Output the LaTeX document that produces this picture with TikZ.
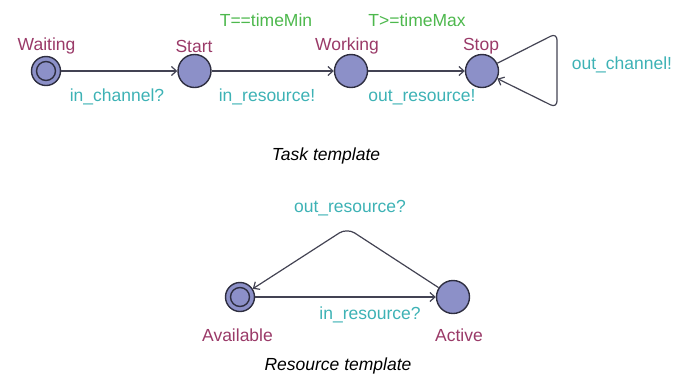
\documentclass[tikz,border=0pt]{standalone}
\usepackage{fontspec}
\setmainfont{Liberation Sans}
\usetikzlibrary{arrows.meta}
\definecolor{locfill}{HTML}{8C90C8}
\definecolor{bord}{HTML}{2E2E40}
\definecolor{lname}{HTML}{9A3A68}
\definecolor{guard}{HTML}{4DB84D}
\definecolor{sync}{HTML}{3DB2B5}
\begin{document}
\begin{tikzpicture}[x=1pt,y=-1pt,font=\fontsize{17.5}{20}\selectfont,
  loc/.style={circle,draw=bord,line width=1.4pt,fill=locfill,minimum size=33pt,inner sep=0pt},
  initloc/.style={loc,minimum size=29pt},
  edge/.style={draw=bord!90,line width=1.2pt,-{Straight Barb[length=5pt,width=9pt]}},
  lnm/.style={text=lname,inner sep=0pt},
  grd/.style={text=guard,inner sep=0pt},
  syn/.style={text=sync,inner sep=0pt},
  captxt/.style={inner sep=0pt,font=\fontsize{17.5}{20}\selectfont\itshape}]
\useasboundingbox (0,0) rectangle (691,376);
% Task template
\node[initloc] (wait) at (46,71) {};
\draw[bord,line width=1.4pt] (wait.center) circle (9.5);
\node[loc] (start) at (194.5,71) {};
\node[loc] (work) at (351,71) {};
\node[loc] (stop) at (482,71) {};
\node[lnm] (lw) at (46.5,46) {Waiting};
\node[lnm] (ls) at (194,46) {Start};
\node[lnm] (lk) at (347,46) {Working};
\node[lnm] (lp) at (481,46) {Stop};
\node[grd] (g1) at (266,20) {T==timeMin};
\node[grd] (g2) at (417,20) {T>=timeMax};
\node[syn] (s1) at (117,97) {in\_channel?};
\node[syn] (s2) at (267,97) {in\_resource!};
\node[syn] (s3) at (422,97) {out\_resource!};
\node[syn] (s4) at (622,65) {out\_channel!};
\coordinate (lt) at (557,33);
\coordinate (lb) at (557,108);
\draw[edge] (wait) -- (start);
\draw[edge] (start) -- (work);
\draw[edge] (work) -- (stop);
\draw[edge,rounded corners=7pt] (stop) -- (lt) -- (lb) -- (stop);
\node[captxt] (c1) at (326,156) {Task template};
% Resource template
\node[initloc] (avail) at (240,297) {};
\draw[bord,line width=1.4pt] (avail.center) circle (9.5);
\node[loc] (act) at (453,297) {};
\node[lnm] (la) at (237.5,335) {Available};
\node[lnm] (lc) at (459,335) {Active};
\node[syn] (s5) at (350,208) {out\_resource?};
\node[syn] (s6) at (370,315) {in\_resource?};
\coordinate (pk) at (347,228);
\draw[edge] (avail) -- (act);
\draw[edge,rounded corners=9pt] (act) -- (pk) -- (avail);
\node[captxt] (c2) at (338,366) {Resource template};
\end{tikzpicture}
\end{document}
